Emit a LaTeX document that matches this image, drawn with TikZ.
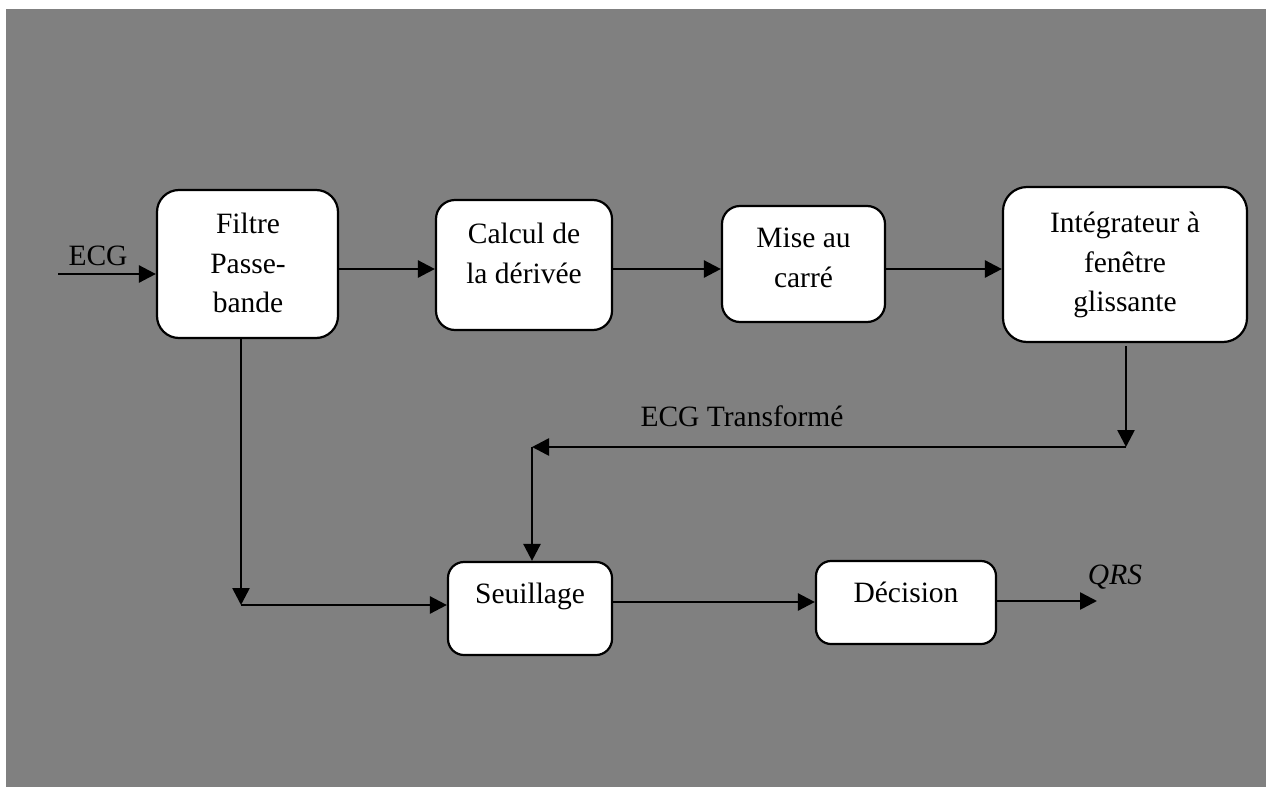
\documentclass[tikz,border=0pt]{standalone}
\usepackage{fontspec}
\setmainfont{Liberation Serif}
\usetikzlibrary{arrows.meta,calc}
\definecolor{bggray}{HTML}{808080}
\begin{document}
\begin{tikzpicture}[x=1pt,y=-1pt,
  box/.style={draw=black, line width=2.2pt, fill=white, inner sep=0pt},
  txt/.style={font=\fontsize{29.5}{39.5}\selectfont, align=center, inner sep=0pt, text=black},
  arr/.style={draw=black, line width=2.6pt, -{Triangle[length=17pt,width=17pt]}}]
\useasboundingbox (0,0) rectangle (1266,787);
\fill[white] (0,0) rectangle (1266,787);
\fill[bggray] (6,9) rectangle (1266,787);

% boxes
\node[box, minimum width=181pt, minimum height=148pt, rounded corners=22pt] (filt) at (247.5,264) {};
\node[box, minimum width=176pt, minimum height=130pt, rounded corners=19pt] (calc) at (524,265) {};
\node[box, minimum width=163pt, minimum height=116pt, rounded corners=18pt] (mise) at (803.5,264) {};
\node[box, minimum width=244pt, minimum height=155pt, rounded corners=24pt] (integ) at (1125,264.5) {};
\node[box, minimum width=164pt, minimum height=93pt, rounded corners=16pt] (seuil) at (530,608.5) {};
\node[box, minimum width=180pt, minimum height=83pt, rounded corners=15pt] (dec) at (906,602.5) {};

% box texts
\node[txt, anchor=north] (filt-t) at (248,212.9) {Filtre\\Passe-\\bande};
\node[txt, anchor=north] (calc-t) at (524,222.9) {Calcul de\\la dérivée};
\node[txt, anchor=north] (mise-t) at (803.5,227.9) {Mise au\\carré};
\node[txt, anchor=north] (integ-t) at (1125,211.9) {Intégrateur à\\fenêtre\\glissante};
\node[txt, anchor=base] (seuil-t) at (530,603) {Seuillage};
\node[txt, anchor=base] (dec-t) at (906,602) {Décision};

% free ends
\coordinate (ecgin) at (58,274);
\coordinate (c1) at (1126,447);
\coordinate (c2) at (532,447);
\coordinate (c3) at (241,605);
\coordinate (qrsend) at (1097,601);

% connectors
\draw[arr] (ecgin) -- (ecgin -| filt.west);
\draw[arr] ([yshift=-5pt]filt.east) -- ([yshift=-5pt]filt.east -| calc.west);
\draw[arr] ([yshift=-4pt]calc.east) -- ([yshift=-4pt]calc.east -| mise.west);
\draw[arr] ([yshift=-5pt]mise.east) -- ([yshift=-5pt]mise.east -| integ.west);
\draw[arr] ([yshift=-3pt]integ.south -| c1) -- (c1);
\draw[arr] (c1) -- (c2);
\draw[arr] (c2) -- (c2 |- seuil.north);
\draw[arr] (filt.south -| c3) -- (c3);
\draw[arr] (c3) -- (c3 -| seuil.west);
\draw[arr] ([yshift=6.5pt]seuil.east) -- ([yshift=6.5pt]seuil.east -| dec.west);
\draw[arr] (dec.east |- qrsend) -- (qrsend);

% labels
\node[txt, anchor=base] (ecg) at (98,265) {ECG};
\node[txt, anchor=base] (ecgt) at (742,426) {ECG Transformé};
\node[txt, anchor=base, font=\fontsize{29.5}{39.5}\selectfont\itshape] (qrs) at (1115,584) {QRS};
\end{tikzpicture}
\end{document}
